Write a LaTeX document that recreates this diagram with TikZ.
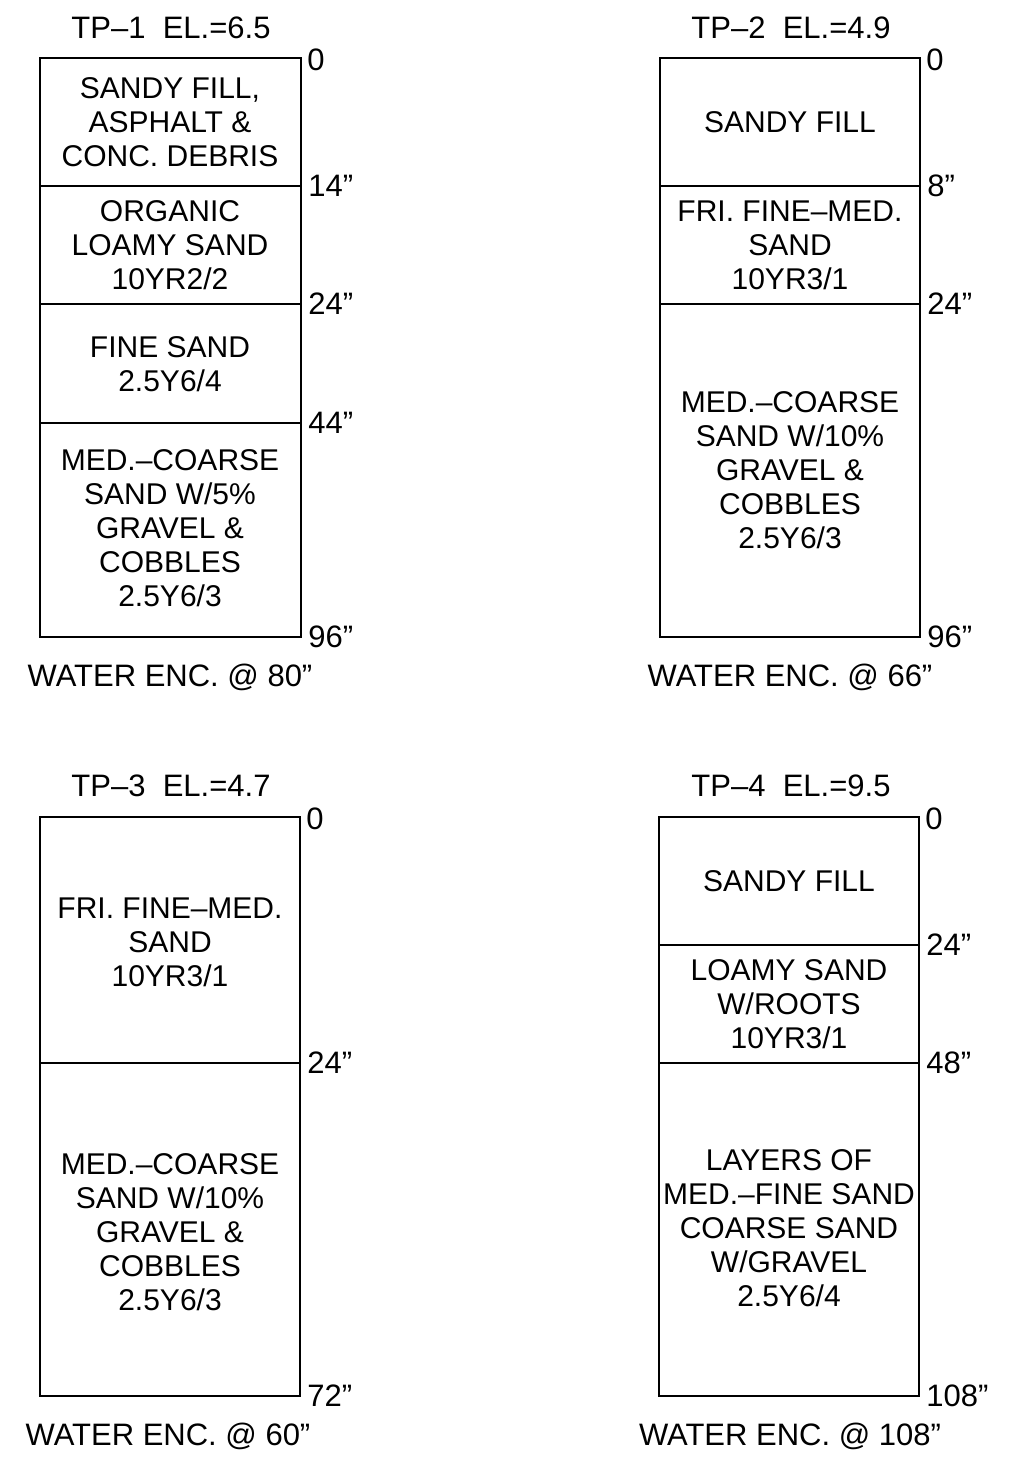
\documentclass[tikz,border=0pt]{standalone}
\usepackage{fontspec}
\setmainfont{Liberation Sans}
\usetikzlibrary{positioning}

\begin{document}
\begin{tikzpicture}[x=0.5pt, y=-0.5pt,
    pit/.style={line width=1.4pt},
    soil/.style={align=center, inner sep=0pt, font=\fontsize{15}{17}\selectfont},
    depth/.style={anchor=west, inner sep=3pt, font=\fontsize{15.5}{17}\selectfont},
    caption/.style={inner sep=0pt, font=\fontsize{15.5}{17}\selectfont}]
    \useasboundingbox[fill=white] (0,0) rectangle (1036,1473);

    % TP-1
    \node[caption] (tp1) at (171,28) {TP–1 \ EL.=6.5};
    \draw[pit] (40,58) rectangle (301,637);
    \node[depth] (tp1top) at (301,60) {0};
    \foreach \y/\d in {186/14, 304/24, 423/44, 637/96} {
        \draw[pit] (40,\y) -- (301,\y) node[depth] (tp1d\d) {\d”};
    }
    \node[soil] (tp1a) at (170,122) {SANDY FILL,\\ASPHALT \&\\CONC. DEBRIS};
    \node[soil] (tp1b) at (170,245) {ORGANIC\\LOAMY SAND\\10YR2/2};
    \node[soil] (tp1c) at (170,364) {FINE SAND\\2.5Y6/4};
    \node[soil] (tp1e) at (170,528) {MED.–COARSE\\SAND W/5\%\\GRAVEL \&\\COBBLES\\2.5Y6/3};
    \node[caption] (tp1w) at (170,677) {WATER ENC. @ 80”};

    % TP-2
    \node[caption] (tp2) at (791,28) {TP–2 \ EL.=4.9};
    \draw[pit] (660,58) rectangle (920,637);
    \node[depth] (tp2top) at (920,60) {0};
    \foreach \y/\d in {186/8, 304/24, 637/96} {
        \draw[pit] (660,\y) -- (920,\y) node[depth] (tp2d\d) {\d”};
    }
    \node[soil] (tp2a) at (790,122) {SANDY FILL};
    \node[soil] (tp2b) at (790,245) {FRI. FINE–MED.\\SAND\\10YR3/1};
    \node[soil] (tp2c) at (790,470) {MED.–COARSE\\SAND W/10\%\\GRAVEL \&\\COBBLES\\2.5Y6/3};
    \node[caption] (tp2w) at (790,677) {WATER ENC. @ 66”};

    % TP-3
    \node[caption] (tp3) at (171,786) {TP–3 \ EL.=4.7};
    \draw[pit] (40,817) rectangle (300,1396);
    \node[depth] (tp3top) at (300,819) {0};
    \foreach \y/\d in {1063/24, 1396/72} {
        \draw[pit] (40,\y) -- (300,\y) node[depth] (tp3d\d) {\d”};
    }
    \node[soil] (tp3a) at (170,942) {FRI. FINE–MED.\\SAND\\10YR3/1};
    \node[soil] (tp3b) at (170,1232) {MED.–COARSE\\SAND W/10\%\\GRAVEL \&\\COBBLES\\2.5Y6/3};
    \node[caption] (tp3w) at (168,1436) {WATER ENC. @ 60”};

    % TP-4
    \node[caption] (tp4) at (791,786) {TP–4 \ EL.=9.5};
    \draw[pit] (659,817) rectangle (919,1396);
    \node[depth] (tp4top) at (919,819) {0};
    \foreach \y/\d in {945/24, 1063/48, 1396/108} {
        \draw[pit] (659,\y) -- (919,\y) node[depth] (tp4d\d) {\d”};
    }
    \node[soil] (tp4a) at (789,881) {SANDY FILL};
    \node[soil] (tp4b) at (789,1004) {LOAMY SAND\\W/ROOTS\\10YR3/1};
    \node[soil] (tp4c) at (789,1228) {LAYERS OF\\MED.–FINE SAND\\COARSE SAND\\W/GRAVEL\\2.5Y6/4};
    \node[caption] (tp4w) at (790,1436) {WATER ENC. @ 108”};
\end{tikzpicture}
\end{document}
